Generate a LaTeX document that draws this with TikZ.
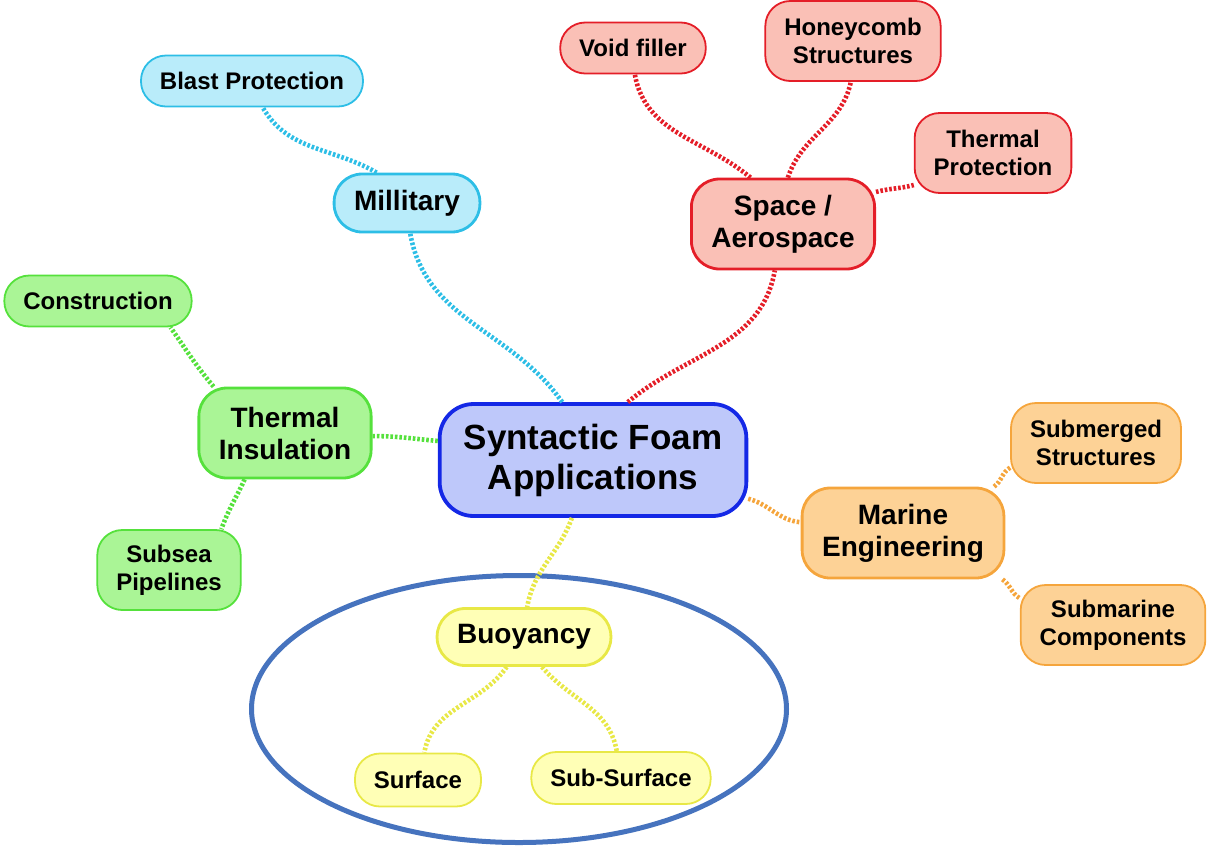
\documentclass[tikz,border=0pt]{standalone}
\usepackage{fontspec}
\setmainfont{Liberation Sans}
\usetikzlibrary{positioning}

\definecolor{skyline}{RGB}{45,190,230}
\definecolor{skyfill}{RGB}{185,236,250}
\definecolor{redline}{RGB}{228,30,40}
\definecolor{redfill}{RGB}{250,192,182}
\definecolor{grnline}{RGB}{85,225,60}
\definecolor{grnfill}{RGB}{170,245,150}
\definecolor{bluline}{RGB}{20,40,230}
\definecolor{blufill}{RGB}{190,200,250}
\definecolor{orgline}{RGB}{245,165,60}
\definecolor{orgfill}{RGB}{253,210,150}
\definecolor{ylwline}{RGB}{232,232,70}
\definecolor{ylwfill}{RGB}{255,255,182}
\definecolor{ringblue}{RGB}{70,115,190}

\begin{document}
\begin{tikzpicture}[x=1pt,y=-1pt,
	leaf/.style={draw=#1line,fill=#1fill,line width=1.8pt,rounded corners=25pt,
		align=center,inner xsep=19pt,inner ysep=0pt,
		font=\fontsize{24}{28}\selectfont\bfseries},
	mid/.style={draw=#1line,fill=#1fill,line width=2.8pt,rounded corners=28pt,
		align=center,inner xsep=20pt,inner ysep=0pt,
		font=\fontsize{28}{32}\selectfont\bfseries},
	root/.style={draw=#1line,fill=#1fill,line width=3.8pt,rounded corners=34pt,
		align=center,inner xsep=24pt,inner ysep=0pt,
		font=\fontsize{35}{40}\selectfont\bfseries},
	link/.style={draw=#1line,line width=4.6pt,dash pattern=on 2.6pt off 1.9pt}]
		\useasboundingbox (0,0) rectangle (1207,847);
		% 外圈
		\draw[ringblue,line width=5pt] (519,709) ellipse [x radius=267.5,y radius=133.5];
		% 中心
		\node[root=blu,minimum height=112pt] (root) at (593,460) {Syntactic Foam\\Applications};
		% 分支
		\node[mid=sky,minimum height=58pt] (mil) at (407,203) {Millitary};
		\node[mid=red,minimum height=90pt] (space) at (783,224) {Space /\\Aerospace};
		\node[mid=grn,minimum height=90pt] (ins) at (285,433) {Thermal\\Insulation};
		\node[mid=org,minimum height=90pt] (marine) at (903,533) {Marine\\Engineering};
		\node[mid=ylw,minimum height=57pt] (buoy) at (524,637) {Buoyancy};
		% 叶子
		\node[leaf=sky,minimum height=51pt] (blast) at (252,81) {Blast Protection};
		\node[leaf=red,minimum height=51pt] (void) at (633,48) {Void filler};
		\node[leaf=red,minimum height=80pt] (honey) at (853,41) {Honeycomb\\Structures};
		\node[leaf=red,minimum height=80pt] (tprot) at (993,153) {Thermal\\Protection};
		\node[leaf=grn,minimum height=51pt] (cons) at (98,301) {Construction};
		\node[leaf=grn,minimum height=80pt] (pipe) at (169,570) {Subsea\\Pipelines};
		\node[leaf=org,minimum height=80pt] (smgd) at (1096,443) {Submerged\\Structures};
		\node[leaf=org,minimum height=80pt] (smrn) at (1113,625) {Submarine\\Components};
		\node[leaf=ylw,minimum height=53pt] (surf) at (418,780) {Surface};
		\node[leaf=ylw,minimum height=52pt] (subsurf) at (621,778) {Sub-Surface};
		% 连线
		\draw[link=sky] (root.118) to[out=125,in=-80] (mil.276);
		\draw[link=sky] (mil.135) to[out=150,in=-60] (blast.292);
		\draw[link=red] (root.59) to[out=40,in=-100] (space.260);
		\draw[link=red] (space.125) to[out=140,in=-80] (void.274);
		\draw[link=red] (space.84) to[out=72,in=-102] (honey.267);
		\draw[link=red] (space.19) to[out=15,in=195] (tprot.202);
		\draw[link=grn] (root.173) to[out=175,in=0] (ins.358);
		\draw[link=grn] (ins.147) to[out=130,in=-55] (cons.340);
		\draw[link=grn] (ins.229) to[out=-115,in=70] (pipe.38);
		\draw[link=org] (root.346) to[out=-15,in=175] (marine.174);
		\draw[link=org] (marine.27) to[out=35,in=210] (smgd.196);
		\draw[link=org] (marine.335) to[out=-35,in=150] (smrn.164);
		\draw[link=ylw] (root.250) to[out=-110,in=80] (buoy.84);
		\draw[link=ylw] (buoy.240) to[out=-125,in=80] (surf.77);
		\draw[link=ylw] (buoy.301) to[out=-50,in=100] (subsurf.99);
	\end{tikzpicture}
\end{document}
